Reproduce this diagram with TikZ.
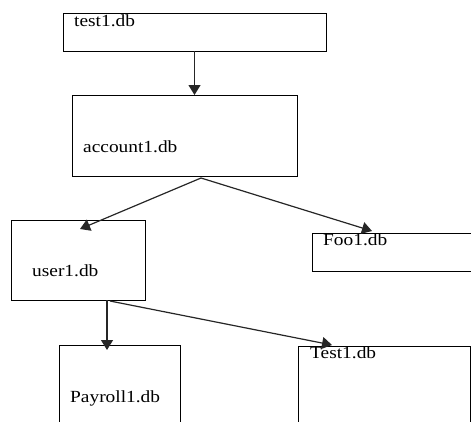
\documentclass[tikz,border=0pt]{standalone}
\usepackage{fontspec}
\setmainfont{Liberation Serif}[FakeStretch=1.14]
\usetikzlibrary{arrows.meta,calc}
\tikzset{
  box/.style={draw=black, line width=1pt, inner sep=0pt, outer sep=0pt},
  lbl/.style={anchor=base west, inner sep=0pt, font=\fontsize{17}{20}\selectfont},
  arr/.style={draw=black!85, line width=1.2pt, -{Triangle[width=12pt,length=10pt]}}
}
\begin{document}
\begin{tikzpicture}[x=1pt,y=-1pt]
\useasboundingbox (0,0) rectangle (471,421);
\clip (0,0) rectangle (471,421);
% boxes
\node[box, minimum width=263pt, minimum height=38pt] (test1) at (194.5,32) {};
\node[box, minimum width=225pt, minimum height=81pt] (account1) at (184.5,135.5) {};
\node[box, minimum width=134pt, minimum height=80pt] (user1) at (78,260) {};
\node[box, minimum width=168pt, minimum height=38pt] (foo1) at (396,252) {};
\node[box, minimum width=121pt, minimum height=95pt] (payroll1) at (119.5,392.5) {};
\node[box, minimum width=172pt, minimum height=94pt] (test1b) at (384,393) {};
% labels
\node[lbl] (ltest1) at (74,26) {test1.db};
\node[lbl] (laccount1) at (83,152) {account1.db};
\node[lbl] (luser1) at (32,276) {user1.db};
\node[lbl] (lfoo1) at (323,245) {Foo1.db};
\node[lbl] (lpayroll1) at (70,402) {Payroll1.db};
\node[lbl] (ltest1b) at (310,358) {Test1.db};
% connector points
\coordinate (accout) at ($(account1.south)+(16.5,2)$);
\coordinate (userin) at ($(user1.north)+(2,9)$);
\coordinate (fooin) at ($(foo1.north)+(-24,-2)$);
\coordinate (userout1) at ($(user1.south)+(29,0)$);
\coordinate (userout2) at ($(user1.south)+(32,1)$);
\coordinate (payin) at (userout1 |- {$(payroll1.north)+(0,5)$});
\coordinate (testin) at ($(test1b.north)+(-52,-1)$);
% connectors
\draw[arr] (test1.south) -- (test1.south |- account1.north);
\draw[arr] (accout) -- (userin);
\draw[arr] (accout) -- (fooin);
\draw[arr] (userout1) -- (payin);
\draw[arr] (userout2) -- (testin);
\end{tikzpicture}
\end{document}
